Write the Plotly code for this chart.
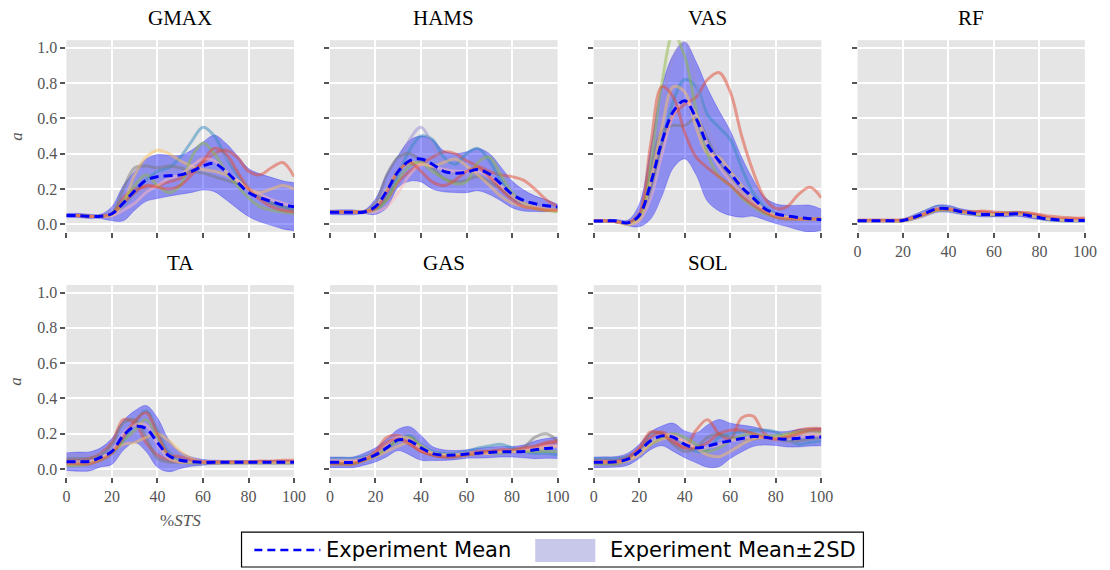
import plotly.graph_objects as go

# ---------------- data ----------------
X_PCT = list(range(0, 101, 5))
MUSCLES = ["GMAX", "HAMS", "VAS", "RF", "TA", "GAS", "SOL"]
X_TICKS = [0, 20, 40, 60, 80, 100]
Y_TICKS = [0.0, 0.2, 0.4, 0.6, 0.8, 1.0]

MEAN_GMAX = [0.05,0.05,0.045,0.045,0.06,0.12,0.19,0.25,0.27,0.275,0.28,0.30,0.33,0.345,0.30,0.24,0.18,0.15,0.13,0.11,0.10]
SD_GMAX = [0.006,0.006,0.006,0.006,0.02,0.05,0.055,0.06,0.062,0.058,0.055,0.06,0.068,0.08,0.08,0.075,0.068,0.068,0.068,0.068,0.068]
TRIALS_GMAX = [
    [0.05,0.05,0.045,0.045,0.06,0.15,0.20,0.21,0.22,0.24,0.26,0.30,0.35,0.40,0.42,0.38,0.30,0.28,0.32,0.35,0.27],
    [0.05,0.05,0.045,0.045,0.05,0.10,0.18,0.25,0.30,0.32,0.38,0.47,0.55,0.50,0.38,0.28,0.20,0.15,0.12,0.10,0.08],
    [0.05,0.05,0.045,0.045,0.05,0.10,0.16,0.20,0.25,0.30,0.33,0.36,0.38,0.40,0.38,0.30,0.22,0.15,0.10,0.08,0.07],
    [0.05,0.05,0.045,0.045,0.06,0.20,0.32,0.33,0.32,0.33,0.32,0.30,0.29,0.27,0.25,0.23,0.20,0.16,0.12,0.10,0.08],
    [0.05,0.05,0.045,0.045,0.05,0.12,0.28,0.38,0.42,0.40,0.36,0.33,0.31,0.30,0.28,0.25,0.20,0.18,0.20,0.22,0.20],
    [0.05,0.05,0.045,0.045,0.06,0.13,0.22,0.28,0.22,0.18,0.22,0.38,0.46,0.40,0.30,0.22,0.15,0.10,0.08,0.07,0.06],
    [0.05,0.05,0.045,0.045,0.05,0.08,0.12,0.18,0.22,0.26,0.28,0.33,0.37,0.36,0.30,0.25,0.20,0.17,0.14,0.12,0.10],
    [0.05,0.05,0.045,0.045,0.06,0.12,0.18,0.22,0.21,0.20,0.22,0.28,0.36,0.43,0.40,0.30,0.20,0.14,0.10,0.08,0.07],
]

MEAN_HAMS = [0.068,0.068,0.068,0.07,0.10,0.19,0.30,0.36,0.37,0.34,0.30,0.29,0.295,0.31,0.285,0.23,0.17,0.135,0.117,0.105,0.098]
SD_HAMS = [0.006,0.007,0.007,0.005,0.022,0.048,0.045,0.058,0.065,0.07,0.058,0.055,0.058,0.06,0.058,0.048,0.038,0.03,0.022,0.017,0.008]
TRIALS_HAMS = [
    [0.07,0.07,0.07,0.07,0.09,0.14,0.24,0.30,0.34,0.38,0.41,0.40,0.36,0.33,0.30,0.28,0.27,0.25,0.20,0.14,0.10],
    [0.07,0.07,0.07,0.07,0.08,0.15,0.28,0.42,0.50,0.48,0.38,0.34,0.40,0.43,0.36,0.25,0.16,0.12,0.10,0.09,0.08],
    [0.07,0.07,0.07,0.07,0.09,0.20,0.32,0.48,0.55,0.45,0.33,0.28,0.27,0.28,0.26,0.22,0.16,0.12,0.10,0.09,0.09],
    [0.07,0.07,0.07,0.07,0.12,0.28,0.38,0.40,0.36,0.32,0.26,0.24,0.25,0.27,0.24,0.20,0.15,0.12,0.10,0.09,0.08],
    [0.07,0.07,0.07,0.07,0.10,0.20,0.30,0.35,0.34,0.33,0.35,0.37,0.33,0.28,0.22,0.16,0.12,0.10,0.09,0.08,0.08],
    [0.07,0.07,0.07,0.07,0.08,0.14,0.25,0.33,0.35,0.30,0.26,0.23,0.24,0.35,0.38,0.28,0.18,0.12,0.09,0.08,0.07],
    [0.07,0.07,0.07,0.07,0.07,0.10,0.18,0.28,0.34,0.33,0.31,0.30,0.30,0.30,0.27,0.22,0.16,0.12,0.10,0.09,0.08],
    [0.07,0.07,0.07,0.07,0.09,0.18,0.30,0.35,0.30,0.24,0.22,0.25,0.30,0.32,0.27,0.20,0.14,0.10,0.09,0.08,0.08],
]

MEAN_VAS = [0.019,0.019,0.019,0.008,0.05,0.23,0.47,0.64,0.70,0.60,0.45,0.36,0.29,0.21,0.15,0.09,0.06,0.047,0.038,0.032,0.026]
SD_VAS = [0.004,0.004,0.004,0.008,0.032,0.10,0.155,0.16,0.165,0.16,0.16,0.142,0.12,0.085,0.052,0.032,0.028,0.03,0.035,0.038,0.03]
TRIALS_VAS = [
    [0.02,0.02,0.015,0.005,0.03,0.20,0.45,0.62,0.68,0.72,0.82,0.86,0.75,0.50,0.30,0.15,0.09,0.10,0.17,0.21,0.15],
    [0.02,0.02,0.015,0.005,0.03,0.18,0.45,0.70,0.82,0.78,0.62,0.55,0.48,0.32,0.18,0.10,0.06,0.04,0.03,0.03,0.03],
    [0.02,0.02,0.015,0.0,0.02,0.25,0.65,0.95,1.03,0.80,0.55,0.40,0.30,0.20,0.12,0.07,0.05,0.04,0.03,0.03,0.03],
    [0.02,0.02,0.015,0.005,0.05,0.30,0.53,0.56,0.56,0.60,0.48,0.35,0.26,0.18,0.12,0.07,0.05,0.04,0.03,0.03,0.03],
    [0.02,0.02,0.015,0.0,0.03,0.25,0.55,0.78,0.75,0.55,0.40,0.38,0.30,0.22,0.14,0.08,0.05,0.04,0.03,0.03,0.03],
    [0.02,0.02,0.015,0.0,0.03,0.35,0.80,1.08,0.95,0.65,0.40,0.27,0.22,0.15,0.10,0.06,0.04,0.03,0.03,0.03,0.03],
    [0.02,0.02,0.015,0.0,0.02,0.15,0.40,0.62,0.70,0.62,0.45,0.33,0.25,0.18,0.12,0.08,0.05,0.04,0.03,0.03,0.03],
    [0.02,0.02,0.015,0.01,0.06,0.45,0.78,0.72,0.52,0.38,0.32,0.27,0.22,0.16,0.11,0.07,0.04,0.03,0.03,0.03,0.03],
]

MEAN_RF = [0.02,0.02,0.02,0.02,0.022,0.04,0.064,0.088,0.088,0.073,0.064,0.056,0.056,0.056,0.06,0.05,0.038,0.028,0.024,0.022,0.022]
SD_RF = [0.003,0.003,0.003,0.003,0.004,0.007,0.009,0.01,0.01,0.008,0.007,0.007,0.007,0.007,0.007,0.007,0.006,0.005,0.004,0.004,0.004]
TRIALS_RF = [
    [0.02,0.02,0.02,0.02,0.02,0.035,0.06,0.085,0.085,0.075,0.07,0.07,0.06,0.06,0.065,0.06,0.05,0.035,0.03,0.03,0.03],
    [0.02,0.02,0.02,0.02,0.025,0.045,0.075,0.10,0.095,0.08,0.065,0.06,0.055,0.055,0.06,0.05,0.035,0.025,0.02,0.02,0.02],
    [0.02,0.02,0.02,0.02,0.025,0.05,0.075,0.095,0.09,0.075,0.065,0.055,0.055,0.055,0.06,0.05,0.04,0.028,0.022,0.02,0.02],
    [0.02,0.02,0.02,0.02,0.02,0.04,0.06,0.085,0.09,0.075,0.065,0.055,0.05,0.055,0.058,0.05,0.035,0.025,0.02,0.02,0.02],
    [0.02,0.02,0.02,0.02,0.02,0.035,0.055,0.08,0.085,0.07,0.06,0.055,0.055,0.06,0.06,0.05,0.04,0.03,0.025,0.022,0.022],
    [0.02,0.02,0.02,0.02,0.02,0.035,0.06,0.08,0.08,0.07,0.06,0.055,0.06,0.065,0.065,0.055,0.04,0.03,0.025,0.022,0.022],
    [0.02,0.02,0.02,0.02,0.022,0.04,0.065,0.09,0.09,0.075,0.065,0.06,0.058,0.058,0.06,0.05,0.04,0.03,0.025,0.022,0.022],
    [0.025,0.025,0.025,0.025,0.025,0.04,0.06,0.085,0.085,0.075,0.07,0.075,0.07,0.065,0.065,0.065,0.055,0.045,0.04,0.035,0.035],
]

MEAN_TA = [0.042,0.042,0.043,0.066,0.10,0.19,0.24,0.23,0.15,0.075,0.05,0.042,0.038,0.038,0.038,0.038,0.038,0.038,0.038,0.038,0.038]
SD_TA = [0.025,0.027,0.027,0.027,0.037,0.042,0.045,0.065,0.07,0.045,0.024,0.013,0.008,0.006,0.005,0.005,0.005,0.005,0.005,0.005,0.005]
TRIALS_TA = [
    [0.05,0.05,0.06,0.09,0.15,0.28,0.26,0.15,0.08,0.05,0.04,0.04,0.04,0.04,0.04,0.04,0.04,0.04,0.04,0.04,0.04],
    [0.04,0.04,0.04,0.06,0.09,0.16,0.26,0.33,0.22,0.10,0.05,0.04,0.04,0.04,0.04,0.04,0.04,0.04,0.04,0.04,0.04],
    [0.08,0.08,0.08,0.09,0.12,0.18,0.20,0.30,0.25,0.12,0.06,0.04,0.035,0.035,0.035,0.035,0.035,0.035,0.035,0.035,0.035],
    [0.06,0.06,0.06,0.08,0.14,0.26,0.28,0.18,0.06,0.04,0.04,0.035,0.035,0.035,0.035,0.035,0.035,0.035,0.035,0.035,0.035],
    [0.03,0.03,0.04,0.06,0.10,0.14,0.15,0.18,0.20,0.16,0.10,0.06,0.04,0.035,0.035,0.035,0.035,0.035,0.035,0.035,0.035],
    [0.02,0.02,0.03,0.05,0.09,0.16,0.22,0.28,0.18,0.07,0.04,0.035,0.035,0.035,0.035,0.035,0.035,0.035,0.035,0.035,0.035],
    [0.04,0.04,0.04,0.06,0.10,0.20,0.25,0.25,0.14,0.06,0.04,0.04,0.04,0.04,0.04,0.04,0.04,0.04,0.04,0.04,0.04],
    [0.03,0.03,0.03,0.05,0.09,0.18,0.27,0.32,0.20,0.08,0.07,0.05,0.04,0.04,0.04,0.04,0.04,0.045,0.045,0.05,0.05],
]

MEAN_GAS = [0.038,0.038,0.038,0.056,0.08,0.12,0.165,0.16,0.12,0.088,0.079,0.079,0.085,0.09,0.094,0.098,0.098,0.10,0.109,0.117,0.12]
SD_GAS = [0.015,0.015,0.015,0.017,0.02,0.025,0.03,0.04,0.035,0.02,0.015,0.013,0.012,0.014,0.015,0.015,0.015,0.018,0.025,0.028,0.03]
TRIALS_GAS = [
    [0.04,0.04,0.04,0.06,0.10,0.18,0.19,0.15,0.10,0.08,0.07,0.08,0.09,0.10,0.10,0.10,0.10,0.11,0.12,0.14,0.15],
    [0.06,0.06,0.06,0.07,0.09,0.13,0.17,0.19,0.14,0.10,0.09,0.09,0.10,0.12,0.13,0.14,0.12,0.10,0.09,0.09,0.08],
    [0.02,0.02,0.02,0.04,0.07,0.11,0.16,0.22,0.14,0.08,0.07,0.07,0.08,0.08,0.09,0.09,0.09,0.10,0.11,0.12,0.14],
    [0.03,0.03,0.03,0.05,0.07,0.12,0.17,0.18,0.12,0.08,0.07,0.07,0.08,0.09,0.10,0.10,0.10,0.12,0.18,0.20,0.16],
    [0.04,0.04,0.04,0.05,0.07,0.10,0.13,0.15,0.13,0.09,0.08,0.08,0.08,0.09,0.09,0.10,0.10,0.10,0.11,0.12,0.13],
    [0.03,0.03,0.03,0.05,0.08,0.12,0.16,0.18,0.13,0.09,0.08,0.08,0.08,0.09,0.09,0.09,0.10,0.10,0.10,0.10,0.10],
    [0.05,0.05,0.05,0.06,0.09,0.14,0.18,0.17,0.11,0.09,0.08,0.08,0.09,0.09,0.09,0.10,0.10,0.11,0.12,0.13,0.13],
    [0.03,0.03,0.03,0.05,0.09,0.15,0.17,0.14,0.10,0.08,0.07,0.07,0.08,0.09,0.10,0.11,0.11,0.12,0.13,0.15,0.16],
]

MEAN_SOL = [0.038,0.039,0.041,0.056,0.10,0.16,0.188,0.18,0.14,0.12,0.13,0.147,0.16,0.173,0.184,0.18,0.173,0.169,0.175,0.18,0.182]
SD_SOL = [0.015,0.015,0.015,0.017,0.02,0.025,0.028,0.04,0.038,0.042,0.06,0.067,0.05,0.038,0.028,0.022,0.02,0.022,0.025,0.025,0.025]
TRIALS_SOL = [
    [0.05,0.05,0.05,0.07,0.11,0.18,0.21,0.17,0.12,0.22,0.28,0.20,0.17,0.29,0.30,0.20,0.17,0.19,0.22,0.23,0.23],
    [0.06,0.06,0.06,0.07,0.10,0.15,0.18,0.18,0.14,0.10,0.11,0.18,0.20,0.21,0.22,0.22,0.21,0.17,0.14,0.15,0.16],
    [0.02,0.02,0.02,0.04,0.08,0.13,0.17,0.20,0.12,0.08,0.07,0.09,0.12,0.15,0.17,0.17,0.16,0.15,0.16,0.17,0.17],
    [0.03,0.03,0.03,0.05,0.10,0.20,0.20,0.14,0.10,0.12,0.18,0.20,0.18,0.17,0.17,0.18,0.17,0.16,0.16,0.17,0.18],
    [0.04,0.04,0.04,0.05,0.08,0.14,0.17,0.18,0.16,0.12,0.08,0.07,0.10,0.14,0.17,0.18,0.18,0.19,0.20,0.20,0.20],
    [0.03,0.03,0.03,0.05,0.09,0.14,0.18,0.20,0.18,0.14,0.10,0.12,0.16,0.19,0.20,0.19,0.19,0.20,0.21,0.22,0.21],
    [0.04,0.04,0.04,0.05,0.09,0.15,0.19,0.19,0.15,0.12,0.12,0.14,0.16,0.17,0.18,0.18,0.17,0.17,0.18,0.19,0.19],
    [0.04,0.04,0.04,0.06,0.12,0.21,0.20,0.15,0.12,0.12,0.15,0.20,0.22,0.22,0.20,0.18,0.17,0.18,0.20,0.22,0.22],
]

MEANS = [MEAN_GMAX, MEAN_HAMS, MEAN_VAS, MEAN_RF, MEAN_TA, MEAN_GAS, MEAN_SOL]
SDS = [SD_GMAX, SD_HAMS, SD_VAS, SD_RF, SD_TA, SD_GAS, SD_SOL]
TRIALS = [TRIALS_GMAX, TRIALS_HAMS, TRIALS_VAS, TRIALS_RF, TRIALS_TA, TRIALS_GAS, TRIALS_SOL]

# ---------------- style ----------------
W, H = 1110, 570
TRIAL_COLORS = ["rgba(226,74,51,0.5)", "rgba(52,138,189,0.5)", "rgba(152,142,213,0.5)",
                "rgba(119,119,119,0.5)", "rgba(251,193,94,0.5)", "rgba(142,186,66,0.5)",
                "rgba(255,181,184,0.5)", "rgba(226,74,51,0.5)"]
BAND_COLOR = "rgba(0,0,255,0.38)"
BAND_EDGE = "rgba(0,0,255,0.25)"
SERIF = "Liberation Serif"
COL_PX = [(63.3, 294.3), (330.7, 561.7), (598.3, 829.3), (866.0, 1096.7)]
ROW_PX = [(39.3, 231.7), (285.0, 477.3)]
POS = [(0, 0), (0, 1), (0, 2), (0, 3), (1, 0), (1, 1), (1, 2)]
Y_RANGE = [-0.043, 1.043]

fig = go.Figure()
layout = dict(
    width=W, height=H, margin=dict(l=0, r=0, t=0, b=0),
    paper_bgcolor="white", plot_bgcolor="#E5E5E5", showlegend=False,
    annotations=[], shapes=[],
)

for i, name in enumerate(MUSCLES):
    r, c = POS[i]
    k = "" if i == 0 else str(i + 1)
    xa, ya = "x" + k, "y" + k
    upper = [m + 2 * s for m, s in zip(MEANS[i], SDS[i])]
    lower = [m - 2 * s for m, s in zip(MEANS[i], SDS[i])]
    fig.add_trace(go.Scatter(x=X_PCT, y=upper, mode="lines", xaxis=xa, yaxis=ya,
                             line=dict(width=1, shape="spline", smoothing=1.0, color=BAND_EDGE),
                             hoverinfo="skip"))
    fig.add_trace(go.Scatter(x=X_PCT, y=lower, mode="lines", xaxis=xa, yaxis=ya, fill="tonexty",
                             fillcolor=BAND_COLOR,
                             line=dict(width=1, shape="spline", smoothing=1.0, color=BAND_EDGE),
                             hoverinfo="skip"))
    for t, trial in enumerate(TRIALS[i]):
        fig.add_trace(go.Scatter(x=X_PCT, y=trial, mode="lines", xaxis=xa, yaxis=ya,
                                 line=dict(color=TRIAL_COLORS[t % len(TRIAL_COLORS)], width=3,
                                           shape="spline", smoothing=1.0), hoverinfo="skip"))
    fig.add_trace(go.Scatter(x=X_PCT, y=MEANS[i], mode="lines", xaxis=xa, yaxis=ya,
                             line=dict(color="#0000FF", width=3, dash="9px,5px",
                                       shape="spline", smoothing=1.0), hoverinfo="skip"))

    x0, x1 = COL_PX[c]
    yt, yb = ROW_PX[r]
    show_x = (r == 1) or (i == 3)
    show_y = (c == 0)
    layout["xaxis" + k] = dict(
        domain=[x0 / W, x1 / W], anchor=ya, range=[0, 100], tickvals=X_TICKS,
        showticklabels=show_x, ticks="outside", ticklen=5, tickwidth=1.5, tickcolor="#555555",
        showgrid=True, gridcolor="white", gridwidth=1.5, zeroline=False, showline=False,
        tickfont=dict(family=SERIF, size=16, color="#555555"),
    )
    layout["yaxis" + k] = dict(
        domain=[1 - yb / H, 1 - yt / H], anchor=xa, range=Y_RANGE, tickvals=Y_TICKS,
        ticktext=["%.1f" % v for v in Y_TICKS],
        showticklabels=show_y, ticks="outside", ticklen=5, tickwidth=1.5, tickcolor="#555555",
        showgrid=True, gridcolor="white", gridwidth=1.5, zeroline=False, showline=False,
        tickfont=dict(family=SERIF, size=16, color="#555555"),
    )
    layout["annotations"].append(dict(
        text=name, x=(x0 + x1) / 2 / W, y=1 - (17 if r == 0 else 263) / H,
        xref="paper", yref="paper", xanchor="center", yanchor="middle", showarrow=False,
        font=dict(family=SERIF, size=21, color="black")))

# axis labels
for yc in [(39.3 + 231.7) / 2, (285 + 477.3) / 2]:
    layout["annotations"].append(dict(
        text="<i>a</i>", x=12 / W, y=1 - yc / H, xref="paper", yref="paper",
        xanchor="center", yanchor="middle", showarrow=False, textangle=-90,
        font=dict(family=SERIF, size=17, color="#555555")))
layout["annotations"].append(dict(
    text="%<i>STS</i>", x=(63.3 + 294.3) / 2 / W, y=1 - 521 / H, xref="paper", yref="paper",
    xanchor="center", yanchor="middle", showarrow=False,
    font=dict(family=SERIF, size=17, color="#555555")))

# legend (drawn manually)
def px(xp): return xp / W
def py(yp): return 1 - yp / H
layout["shapes"] += [
    dict(type="rect", xref="paper", yref="paper", x0=px(241), x1=px(872), y0=py(568), y1=py(533),
         line=dict(color="black", width=1.2), fillcolor="white"),
    dict(type="line", xref="paper", yref="paper", x0=px(254), x1=px(321), y0=py(551), y1=py(551),
         line=dict(color="#0000FF", width=2.5, dash="8px,5px")),
    dict(type="rect", xref="paper", yref="paper", x0=px(539), x1=px(600), y0=py(563), y1=py(540),
         line=dict(width=0), fillcolor="#C8C8EA"),
]
layout["annotations"] += [
    dict(text="Experiment Mean", x=px(325), y=py(551), xref="paper", yref="paper",
         xanchor="left", yanchor="middle", showarrow=False,
         font=dict(family="DejaVu Sans", size=21, color="black")),
    dict(text="Experiment Mean±2SD", x=px(613), y=py(551), xref="paper", yref="paper",
         xanchor="left", yanchor="middle", showarrow=False,
         font=dict(family="DejaVu Sans", size=21, color="black")),
]

fig.update_layout(**layout)
fig.write_html("out.html")
